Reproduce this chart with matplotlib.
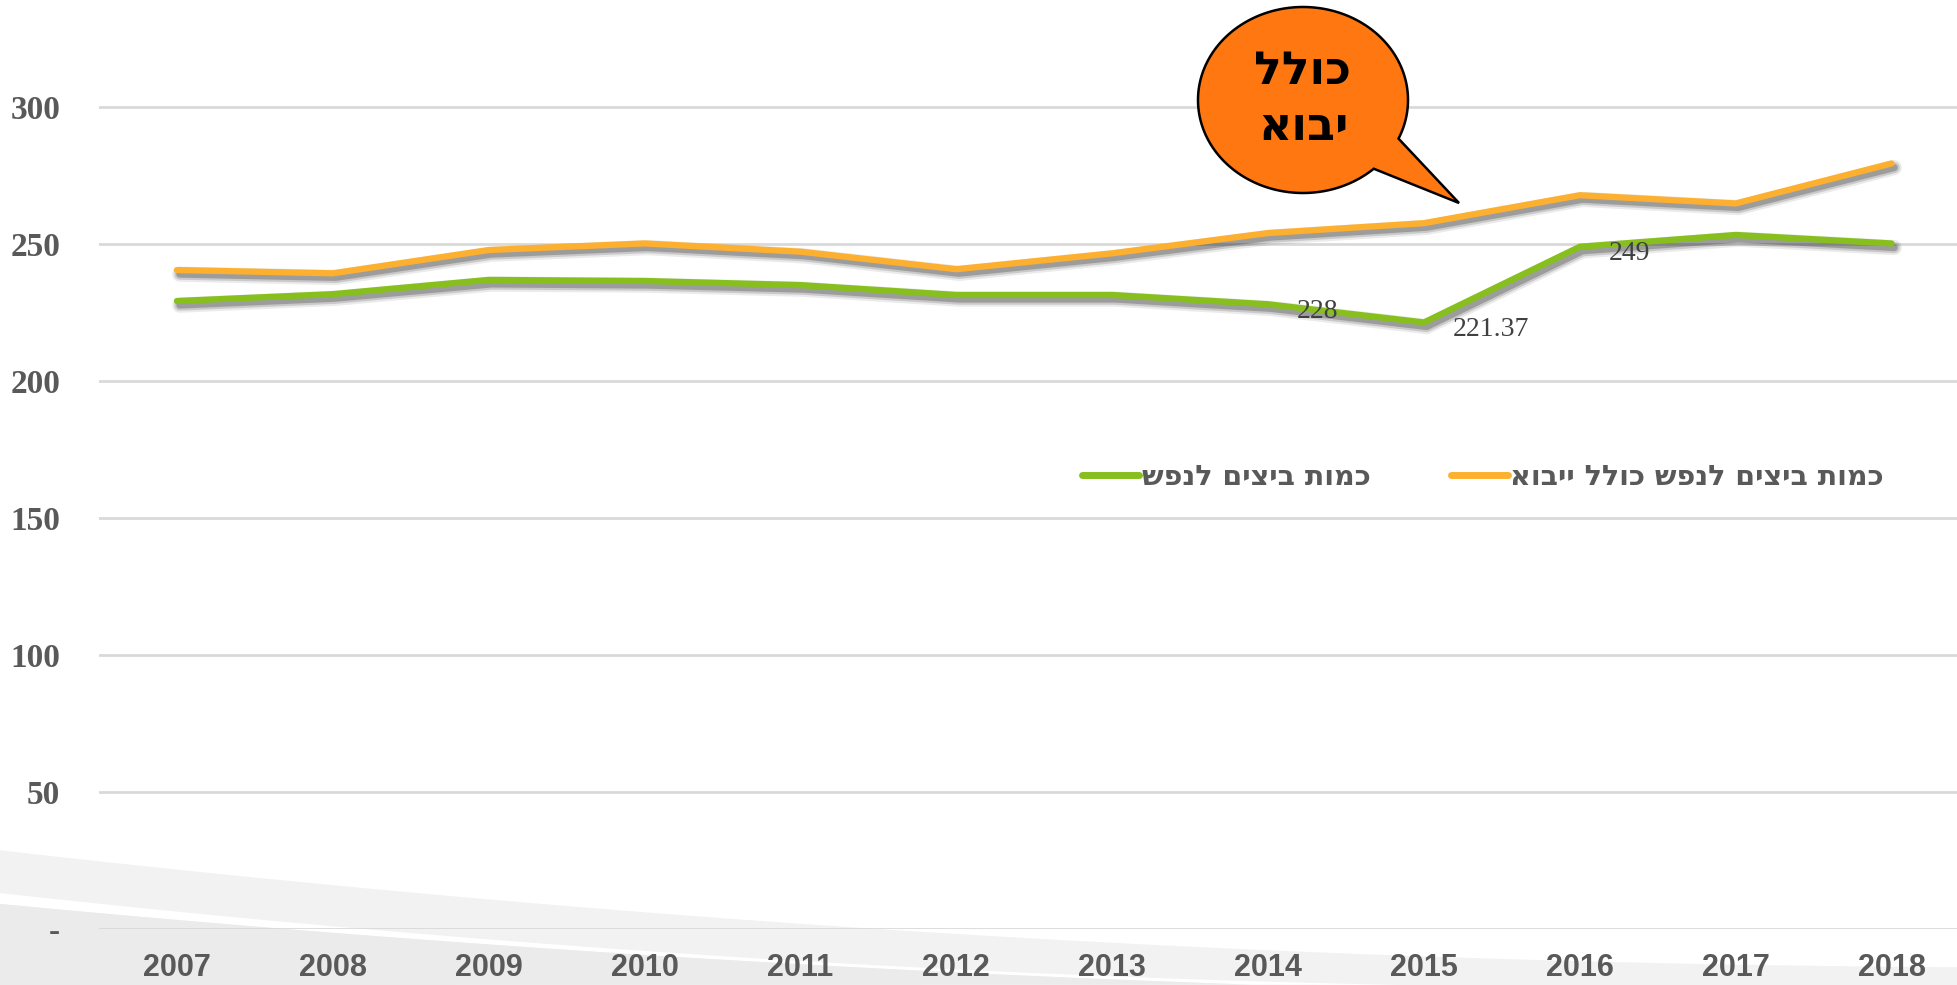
import numpy as np
import matplotlib
matplotlib.use('Agg')
import matplotlib.pyplot as plt
import matplotlib.patheffects as pe
from matplotlib.lines import Line2D
from matplotlib.patches import Polygon

# data
years = [2007, 2008, 2009, 2010, 2011, 2012, 2013, 2014, 2015, 2016, 2017, 2018]
eggs_incl_import = [240.5, 239.3, 247.8, 250.2, 247.2, 240.8, 246.6, 254.0, 257.6, 267.8, 264.8, 279.4]
eggs_per_capita = [229.2, 231.7, 236.9, 236.5, 235.0, 231.4, 231.4, 228.0, 221.37, 249.0, 253.3, 250.2]
label_years = [2014, 2015, 2016]
label_texts = ['228', '221.37', '249']
y_ticks = [0, 50, 100, 150, 200, 250, 300]
y_tick_labels = ['-', '50', '100', '150', '200', '250', '300']
legend_labels = ['כמות ביצים לנפש', 'כמות ביצים לנפש כולל ייבוא']
callout_text = ['כולל', 'יבוא']

orange = '#FDB02F'
green = '#86BF1E'
grey_txt = '#595959'
heb_font = ['DejaVu Sans']


def rtl(s):
    # matplotlib has no bidi support, so flip the hebrew string for display
    return s[::-1]


W, H = 1957, 985
fig = plt.figure(figsize=(W / 100, H / 100), dpi=100)

# background swoosh (pixel coords, y down)
bg = fig.add_axes([0, 0, 1, 1], zorder=0)
bg.set_xlim(0, W)
bg.set_ylim(H, 0)
bg.axis('off')


def curve(px, py, xs):
    c = np.polyfit(px, py, 2)
    return np.polyval(c, xs)


xs = np.linspace(0, W, 200)
top = curve([0, 437, 874, 1957], [851, 893, 930, 967], xs)
bg.add_patch(Polygon(np.column_stack([np.r_[xs, W, 0], np.r_[top, H, H]]),
                     closed=True, facecolor='#F2F2F2', edgecolor='none'))
xs2 = np.linspace(0, 1400, 100)
up = curve([0, 362, 874, 1400], [893, 929, 965, 985], xs2)
xs3 = np.linspace(0, 1250, 100)
lo = curve([0, 262, 749, 1250], [903, 929, 960, 985], xs3)
bg.add_patch(Polygon(np.column_stack([np.r_[xs2, xs3[::-1]], np.r_[up, lo[::-1]]]),
                     closed=True, facecolor='white', edgecolor='none'))
bg.add_patch(Polygon(np.column_stack([np.r_[xs3, 0], np.r_[lo, H]]),
                     closed=True, facecolor='#EBEBEB', edgecolor='none'))

# main chart
ax = fig.add_axes([99 / W, (H - 929) / H, 1 - 99 / W, 929 / H], zorder=2)
ax.patch.set_alpha(0)
ax.set_xlim(2006.5, 2018.42)
ax.set_ylim(0, 929 / 2.74)
for s in ax.spines.values():
    s.set_visible(False)
ax.set_yticks(y_ticks)
ax.set_yticklabels(y_tick_labels, fontfamily='Liberation Serif', fontweight='bold',
                   fontsize=24, color=grey_txt)
ax.set_xticks(years)
ax.set_xticklabels([str(y) for y in years], fontfamily='Liberation Sans',
                   fontweight='bold', fontsize=22, color=grey_txt)
ax.tick_params(axis='y', length=0, pad=28)
ax.tick_params(axis='x', length=0, pad=17)
ax.yaxis.grid(True, color='#D9D9D9', linewidth=2)
ax.set_axisbelow(True)


def shadow():
    return [pe.SimpleLineShadow(offset=(2, -3), shadow_color='k', alpha=0.08, linewidth=11),
            pe.SimpleLineShadow(offset=(2, -3), shadow_color='k', alpha=0.14, linewidth=8),
            pe.SimpleLineShadow(offset=(2, -3), shadow_color='k', alpha=0.22, linewidth=5),
            pe.Normal()]


ax.plot(years, eggs_incl_import, color=orange, lw=4.5, solid_capstyle='round',
        solid_joinstyle='round', path_effects=shadow(), zorder=3)
ax.plot(years, eggs_per_capita, color=green, lw=4.5, solid_capstyle='round',
        solid_joinstyle='round', path_effects=shadow(), zorder=3)

for yr, txt in zip(label_years, label_texts):
    val = eggs_per_capita[years.index(yr)]
    ax.annotate(txt, (yr, val), xytext=(21, -5), textcoords='offset points',
                ha='left', va='center', fontfamily='Liberation Serif', fontsize=20,
                color='#404040', zorder=4)

# legend: green entry on the left, orange on the right
handles = [Line2D([], [], color=green, lw=5, solid_capstyle='round'),
           Line2D([], [], color=orange, lw=5, solid_capstyle='round')]
leg = fig.legend(handles, [rtl(t) for t in legend_labels], ncol=2, frameon=False,
                 loc='center right', bbox_to_anchor=(1884 / W, 1 - 477 / H),
                 borderpad=0, borderaxespad=0, handlelength=2.0, handletextpad=0.1,
                 columnspacing=2.8,
                 prop={'family': heb_font, 'weight': 'bold', 'size': 20.5})
for t in leg.get_texts():
    t.set_color(grey_txt)

# speech bubble
ov = fig.add_axes([0, 0, 1, 1], zorder=5)
ov.set_xlim(0, W)
ov.set_ylim(H, 0)
ov.axis('off')
cx, cy, rx, ry = 1303, 100, 105, 93
a_start = np.arctan2((138 - cy) / ry, (1397 - cx) / rx)
a_end = np.arctan2((168 - cy) / ry, (1373 - cx) / rx)
ang = np.linspace(a_end, a_start + 2 * np.pi, 300)
px = np.r_[cx + rx * np.cos(ang), 1459]
py = np.r_[cy + ry * np.sin(ang), 203]
ov.add_patch(Polygon(np.column_stack([px, py]), closed=True, facecolor='#FF7711',
                     edgecolor='black', linewidth=1.8, joinstyle='miter'))
ov.text(cx, 72, rtl(callout_text[0]), ha='center', va='center', fontsize=33,
        fontweight='bold', family=heb_font, color='black')
ov.text(cx, 128, rtl(callout_text[1]), ha='center', va='center', fontsize=33,
        fontweight='bold', family=heb_font, color='black')

fig.savefig('out.png', dpi=100)
